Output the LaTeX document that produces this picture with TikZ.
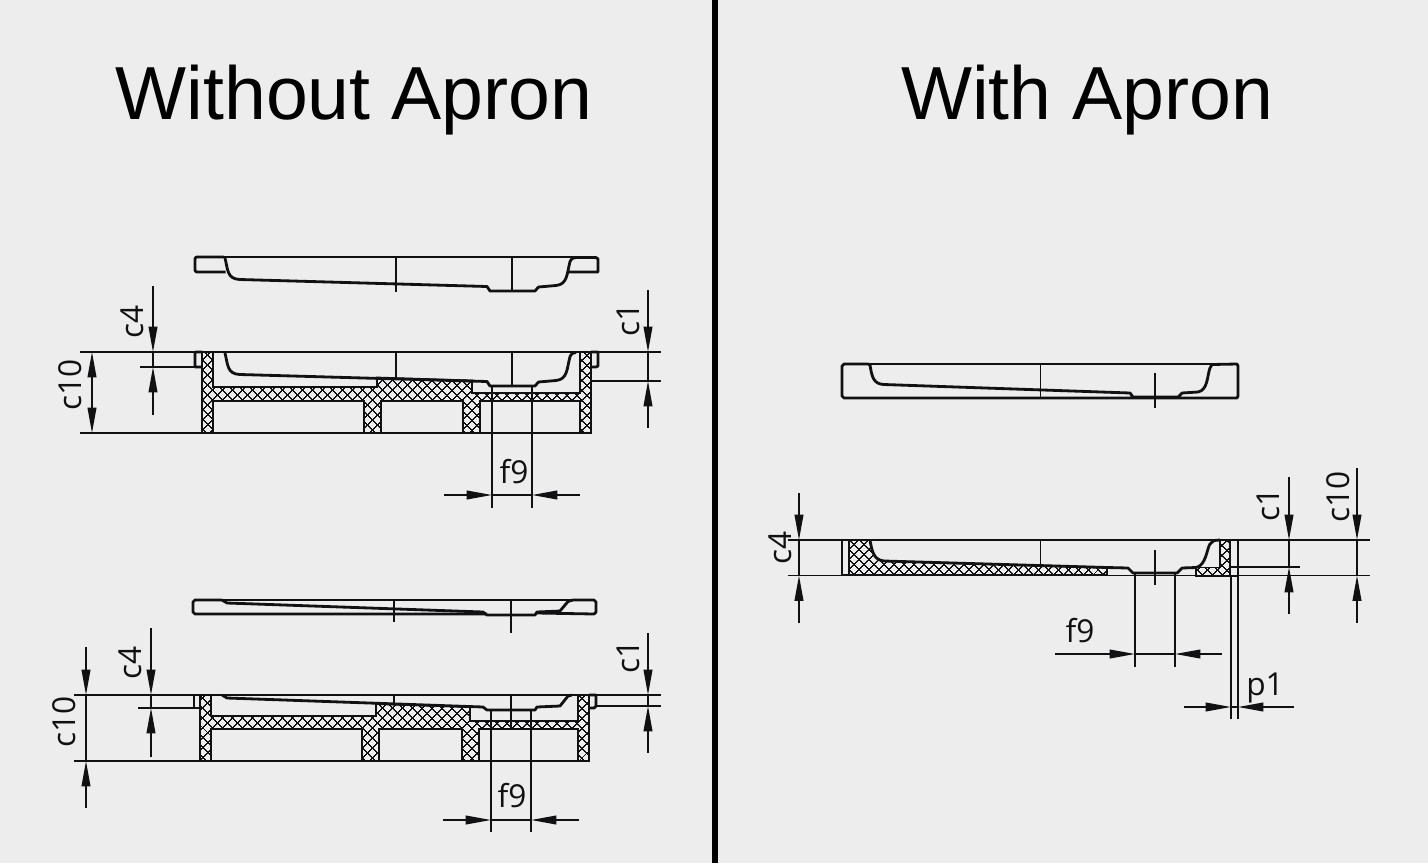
\documentclass[tikz,border=0pt]{standalone}
\usepackage{fontspec}
\setmainfont{Liberation Sans}
\newfontfamily\dimfont{Open Sans}
\usetikzlibrary{arrows.meta,patterns.meta}
\definecolor{paperbg}{HTML}{EDEDEE}
\definecolor{inkline}{HTML}{111113}
\tikzset{
  outline/.style={draw=inkline, line width=1.6pt, line join=round},
  hairline/.style={draw=inkline, line width=0.85pt},
  hatched/.style={draw=inkline, line width=1pt, line join=miter, pattern={Hatch[angle=45,distance=4pt,line width=0.75pt]}, pattern color=inkline},
  dimarrow/.style={draw=inkline, line width=0.85pt, -{Triangle[length=14.5pt,width=5pt]}},
  dimtext/.style={font=\dimfont\fontsize{18}{18}\selectfont, text=inkline, inner sep=0pt},
  dimtextv/.style={dimtext, rotate=90},
  heading/.style={font=\fontsize{42.8}{44}\selectfont, text=black, inner sep=0pt}
}
\begin{document}
\begin{tikzpicture}[x=0.02cm, y=-0.02cm]
  \useasboundingbox (0,0) rectangle (1428,863);
  \fill[paperbg] (0,0) rectangle (1428,863);
  \fill[black] (712,0) rectangle (718,863);
  % Headings:
  \node[heading] (leftHead) at (354,100) {Without Apron};
  \node[heading] (rightHead) at (1087,100) {With Apron};

  % Upper left tray, loose:
  \draw[outline] (224,257) -- (197,257) to[out=180,in=90] (195,259) -- (195,270) to[out=-90,in=180] (197,272) -- (225.5,272);
  \draw[outline] (225,258) .. controls (228,270) and (227,279) .. (240,279.5) -- (487,286.5) -- (490,291) -- (535,291) -- (538.5,287) -- (556,285.5) .. controls (567,284.5) and (567,274) .. (569,266) .. controls (570,260) and (571,258) .. (576,257.5) -- (596,257.5) -- (598,259) -- (598,272) -- (568,272);
  \draw[hairline] (224,257) -- (596,257);
  \draw[hairline] (396,257) -- (396,292);
  \draw[hairline] (512,257) -- (512,291);

  % Upper left tray, on its frame:
  \draw[hatched] (202,352) -- (213,352) -- (213,387) -- (377,387) -- (377,377.5) -- (472,380.5) -- (472,393) -- (580,393) -- (580,352) -- (591,352) -- (591,433) -- (580,433) -- (580,401) -- (480,401) -- (480,433) -- (463,433) -- (463,401) -- (381,401) -- (381,433) -- (364,433) -- (364,401) -- (213,401) -- (213,433) -- (202,433) -- cycle;
  \draw[outline] (202,352) -- (196,352) -- (195,353) -- (195,367) -- (202,367);
  \draw[outline] (591,352) -- (598,352) -- (598,366) -- (596,367) -- (591,367);
  \draw[outline] (225,353) .. controls (228,365) and (227,374) .. (240,374.5) -- (487,381.5) -- (490,386) -- (535,386) -- (538.5,382) -- (556,380.5) .. controls (567,379.5) and (567,369) .. (569,361) .. controls (570,355) and (571,353) .. (576,352.5);
  \draw[hairline] (396,352) -- (396,379);
  \draw[hairline] (512,352) -- (512,386);
  \draw[hairline] (80,352) -- (661,352);
  \draw[hairline] (80,433) -- (590,433);
  \draw[hairline] (140,367) -- (195,367);
  \draw[hairline] (591,381) -- (661,381);
  \draw[hairline] (492,386) -- (492,508);
  \draw[hairline] (532,386) -- (532,508);
  \draw[hairline] (153,352) -- (153,367);
  \draw[hairline] (648,352) -- (648,381);
  \draw[hairline] (492,495) -- (532,495);
  \draw[dimarrow] (153,286) -- (153,352);
  \draw[dimarrow] (153,415) -- (153,367);
  \draw[dimarrow] (648,290) -- (648,352);
  \draw[dimarrow] (648,428) -- (648,381);
  \draw[dimarrow] (92,392) -- (92,352);
  \draw[dimarrow] (92,392) -- (92,433);
  \draw[dimarrow] (444,495) -- (492,495);
  \draw[dimarrow] (580,495) -- (532,495);
  \node[dimtextv] (c4a) at (132,322) {c4};
  \node[dimtextv] (c10a) at (70,385) {c10};
  \node[dimtextv] (c1a) at (628,320) {c1};
  \node[dimtext] (f9a) at (514,472) {f9};

  % Lower left tray, loose:
  \draw[outline] (222,600) -- (195,600) -- (193,602) -- (193,612) -- (195,614) -- (487,614);
  \draw[outline] (222,600) -- (227,603) -- (483,612) -- (487,615) -- (535,615) -- (537,612) -- (560,611) -- (568,601.5) -- (573,600) -- (594,600) -- (596,602) -- (596,612) -- (594,614) -- (537,613);
  \draw[hairline] (222,600) -- (594,600);
  \draw[hairline] (394,600) -- (394,622);
  \draw[hairline] (511,600) -- (511,633);

  % Lower left tray, on its frame:
  \draw[hatched] (200,695) -- (211,695) -- (211,716) -- (376,716) -- (376,704) -- (470,707) -- (470,721) -- (578,721) -- (578,695) -- (589,695) -- (589,761) -- (578,761) -- (578,729) -- (479,729) -- (479,761) -- (462,761) -- (462,729) -- (379,729) -- (379,761) -- (362,761) -- (362,729) -- (211,729) -- (211,761) -- (200,761) -- cycle;
  \draw[outline] (200,695) -- (194,695) -- (194,708) -- (200,708);
  \draw[outline] (589,695) -- (596,695) -- (596,706) -- (594,708) -- (589,708);
  \draw[outline] (222,695) -- (227,698) -- (483,707) -- (487,710) -- (535,710) -- (537,707) -- (560,706) -- (568,696) -- (572,695);
  \draw[hairline] (394,695) -- (394,704);
  \draw[hairline] (511,695) -- (511,727);
  \draw[hairline] (74,695) -- (661,695);
  \draw[hairline] (74,761) -- (589,761);
  \draw[hairline] (138,708) -- (194,708);
  \draw[hairline] (596,706) -- (661,706);
  \draw[hairline] (491,710) -- (491,832);
  \draw[hairline] (531,710) -- (531,832);
  \draw[hairline] (151,695) -- (151,708);
  \draw[hairline] (648,695) -- (648,706);
  \draw[hairline] (86,695) -- (86,761);
  \draw[hairline] (491,820) -- (531,820);
  \draw[dimarrow] (151,628) -- (151,695);
  \draw[dimarrow] (151,757) -- (151,708);
  \draw[dimarrow] (648,633) -- (648,695);
  \draw[dimarrow] (648,753) -- (648,706);
  \draw[dimarrow] (86,647) -- (86,695);
  \draw[dimarrow] (86,808) -- (86,761);
  \draw[dimarrow] (443,820) -- (491,820);
  \draw[dimarrow] (579,820) -- (531,820);
  \node[dimtextv] (c4b) at (130,663) {c4};
  \node[dimtextv] (c10b) at (64,722) {c10};
  \node[dimtextv] (c1b) at (628,657) {c1};
  \node[dimtext] (f9b) at (512,796) {f9};

  % Right tray, loose:
  \draw[outline] (844,364) -- (868,364) -- (870,365) .. controls (872,378) and (874,384) .. (884,384.5) -- (1130,393) -- (1133,397) -- (1178,397) -- (1182,393) -- (1198,392) .. controls (1208,390) and (1207,376) .. (1210,368) -- (1212,364.5) -- (1237,364) -- (1238,366) -- (1238,396) -- (1237,398) -- (844,398) -- (842,396) -- (842,366) -- cycle;
  \draw[hairline] (868,364) -- (1212,364);
  \draw[hairline] (1040.5,364) -- (1040.5,398);
  \draw[hairline] (1155,373) -- (1155,408);

  % Right tray, cut:
  \draw[hatched] (849,540) -- (870,540) .. controls (872,552) and (874,560) .. (884,561) -- (1107,567.5) -- (1107,575) -- (849,575) -- cycle;
  \draw[hatched] (1220,540) -- (1230,540) -- (1230,576) -- (1196,576) -- (1196,567.5) -- (1220,567.5) -- cycle;
  \draw[outline] (849,540) -- (842,540) -- (842,575) -- (849,575);
  \draw[outline] (1230,540) -- (1238,540) -- (1238,576) -- (1230,576);
  \draw[outline] (870,540) .. controls (872,552) and (874,560) .. (884,561) -- (1107,567.5) -- (1128,568) -- (1133,573) -- (1177,573) -- (1182,568) -- (1196,567.5) .. controls (1206,566) and (1207,548) .. (1210,544) -- (1214,540.5) -- (1220,540);
  \draw[hairline] (1040.5,540) -- (1040.5,566);
  \draw[hairline] (1155,550) -- (1155,585);
  \draw[hairline] (788,540) -- (1370,540);
  \draw[hairline] (788,575.5) -- (1370,575.5);
  \draw[hairline] (1230,567) -- (1300,567);
  \draw[hairline] (1135,573) -- (1135,667);
  \draw[hairline] (1175,573) -- (1175,667);
  \draw[hairline] (1231,576) -- (1231,719);
  \draw[hairline] (1238,576) -- (1238,719);
  \draw[hairline] (799,540) -- (799,575.5);
  \draw[hairline] (1289,540) -- (1289,567);
  \draw[hairline] (1357,540) -- (1357,575.5);
  \draw[hairline] (1135,654) -- (1175,654);
  \draw[hairline] (1231,707) -- (1238,707);
  \draw[dimarrow] (799,493) -- (799,540);
  \draw[dimarrow] (799,623) -- (799,575.5);
  \draw[dimarrow] (1289,477) -- (1289,540);
  \draw[dimarrow] (1289,614) -- (1289,567);
  \draw[dimarrow] (1357,468) -- (1357,540);
  \draw[dimarrow] (1357,623) -- (1357,575.5);
  \draw[dimarrow] (1055,654) -- (1135,654);
  \draw[dimarrow] (1222,654) -- (1175,654);
  \draw[dimarrow] (1184,707) -- (1231,707);
  \draw[dimarrow] (1294,707) -- (1238,707);
  \node[dimtextv] (c4c) at (780,548) {c4};
  \node[dimtextv] (c1c) at (1268,505) {c1};
  \node[dimtextv] (c10c) at (1338,497) {c10};
  \node[dimtext] (f9c) at (1080,631) {f9};
  \node[dimtext] (p1c) at (1265,688) {p1};
\end{tikzpicture}
\end{document}
